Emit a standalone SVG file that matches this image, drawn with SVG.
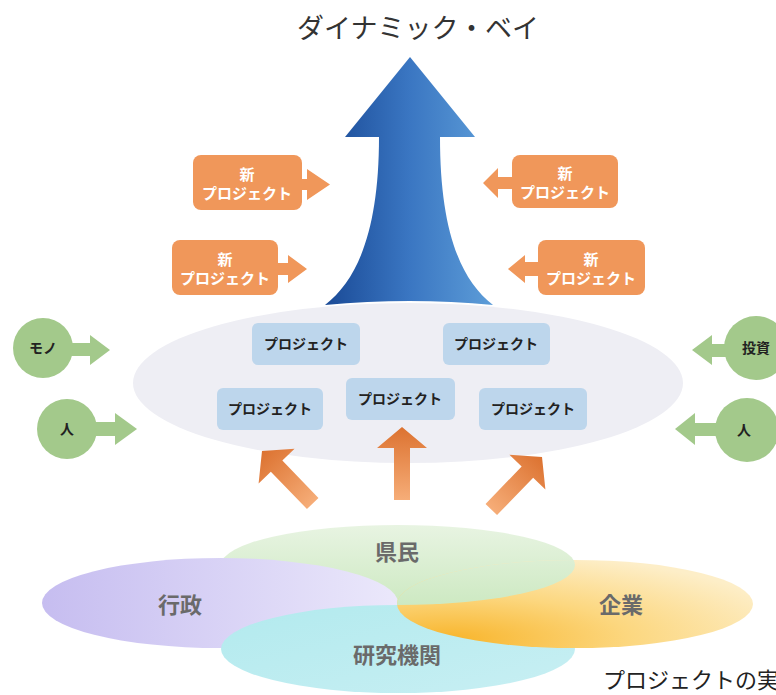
<svg xmlns="http://www.w3.org/2000/svg" width="776" height="695" viewBox="0 0 776 695">
<defs>
<style>
.jp{font-family:"Noto Sans CJK JP","Noto Sans CJK SC",sans-serif;}
.ob{fill:#f0975a;}
.ot{fill:#fff;font-size:15px;font-weight:bold;text-anchor:middle;}
.pb{fill:#bdd6ec;}
.pt{fill:#222;font-size:14px;font-weight:bold;text-anchor:middle;}
.gc{fill:#a3c98b;}
.gt{fill:#222;font-size:14px;font-weight:bold;text-anchor:middle;}
.vt{fill:#6a6a6a;font-size:22px;font-weight:bold;text-anchor:middle;}
</style>
<linearGradient id="blue" x1="0" y1="0" x2="1" y2="0">
<stop offset="0" stop-color="#1a4a96"/>
<stop offset="0.5" stop-color="#3a76c2"/>
<stop offset="1" stop-color="#5d9dd8"/>
</linearGradient>
<linearGradient id="oup" x1="0" y1="0" x2="0" y2="1">
<stop offset="0" stop-color="#dc7230"/>
<stop offset="1" stop-color="#f6ad78"/>
</linearGradient>
<linearGradient id="gGreen" x1="0" y1="0" x2="0" y2="1">
<stop offset="0" stop-color="#e8f4e2"/>
<stop offset="1" stop-color="#cde9c2"/>
</linearGradient>
<linearGradient id="gPurple" x1="0" y1="0" x2="1" y2="0">
<stop offset="0" stop-color="#c6bdf0"/>
<stop offset="1" stop-color="#ebe8fb"/>
</linearGradient>
<linearGradient id="gCyan" x1="0" y1="0" x2="1" y2="1">
<stop offset="0" stop-color="#b2eaee"/>
<stop offset="1" stop-color="#c8eff3"/>
</linearGradient>
<radialGradient id="gYellow" cx="0.15" cy="0.9" r="1">
<stop offset="0" stop-color="#f8b52c"/>
<stop offset="0.5" stop-color="#fcd77f"/>
<stop offset="1" stop-color="#fdeec8"/>
</radialGradient>
<clipPath id="yclip"><ellipse cx="575" cy="604" rx="178" ry="44"/></clipPath>
<path id="upArrow" d="M0,0 L25,21 L8,21 L8,73 L-8,73 L-8,21 L-25,21 Z"/>
</defs>
<rect width="776" height="695" fill="#fff"/>

<text class="jp" x="418" y="38" font-size="27" fill="#333" text-anchor="middle">ダイナミック・ベイ</text>

<g id="growth-arrow">
<path d="M410,57 L475,137 L440,137 C440,225 458,278 493,305 Q410,297 325,305 C360,278 379,225 379,137 L345,137 Z" fill="url(#blue)"/>
</g>

<g id="base-ellipse">
<ellipse cx="408" cy="383" rx="275" ry="80" fill="#eeeef4"/>
</g>

<g id="venn">
<g id="kenmin"><ellipse cx="398" cy="565" rx="177" ry="40" fill="url(#gGreen)"/></g>
<g id="gyosei"><ellipse cx="220" cy="603" rx="178" ry="45" fill="url(#gPurple)"/></g>
<g id="kenkyu"><ellipse cx="398" cy="649" rx="177" ry="44" fill="url(#gCyan)"/></g>
<g id="kigyo"><ellipse cx="575" cy="604" rx="178" ry="44" fill="url(#gYellow)"/></g>
<ellipse cx="398" cy="565" rx="177" ry="40" fill="url(#gGreen)" clip-path="url(#yclip)"/>
<text class="jp vt" x="397" y="560">県民</text>
<text class="jp vt" x="180" y="613">行政</text>
<text class="jp vt" x="621" y="613">企業</text>
<text class="jp vt" x="397" y="663">研究機関</text>
</g>

<g id="connectors">
<polygon class="ob" points="300,179 307,179 307,169 330,184.5 307,200 307,190 300,190"/>
<polygon class="ob" points="276,263 288,263 288,255 307,269 288,283 288,275 276,275"/>
<polygon class="ob" points="514,177 498,177 498,168 483,183 498,198 498,189 514,189"/>
<polygon class="ob" points="540,262 525,262 525,255 508,269 525,283 525,276 540,276"/>
<polygon class="gc" points="68,343 90,343 90,335 110,350 90,365 90,356 68,356"/>
<polygon class="gc" points="92,422 115,422 115,413 137,429 115,445 115,436 92,436"/>
<polygon class="gc" points="726,344 712,344 712,335 692,350 712,365 712,357 726,357"/>
<polygon class="gc" points="718,423 695,423 695,413 675,429 695,445 695,436 718,436"/>
<use href="#upArrow" fill="url(#oup)" transform="translate(402,427)"/>
<use href="#upArrow" fill="url(#oup)" transform="translate(262,451) rotate(-44)"/>
<use href="#upArrow" fill="url(#oup)" transform="translate(542,457) rotate(44)"/>
</g>

<g id="new1"><rect class="ob" x="193" y="155" width="109" height="55" rx="8"/><text class="jp ot" x="247" y="180">新</text><text class="jp ot" x="247" y="199">プロジェクト</text></g>
<g id="new2"><rect class="ob" x="172" y="240" width="106" height="55" rx="8"/><text class="jp ot" x="225" y="265">新</text><text class="jp ot" x="225" y="284">プロジェクト</text></g>
<g id="new3"><rect class="ob" x="512" y="155" width="106" height="53" rx="8"/><text class="jp ot" x="565" y="179">新</text><text class="jp ot" x="565" y="198">プロジェクト</text></g>
<g id="new4"><rect class="ob" x="538" y="240" width="107" height="55" rx="8"/><text class="jp ot" x="591" y="265">新</text><text class="jp ot" x="591" y="284">プロジェクト</text></g>

<g id="proj1"><rect class="pb" x="252" y="323" width="108" height="42" rx="6"/><text class="jp pt" x="306" y="349">プロジェクト</text></g>
<g id="proj2"><rect class="pb" x="443" y="323" width="107" height="42" rx="6"/><text class="jp pt" x="496" y="349">プロジェクト</text></g>
<g id="proj3"><rect class="pb" x="217" y="388" width="106" height="42" rx="6"/><text class="jp pt" x="270" y="414">プロジェクト</text></g>
<g id="proj4"><rect class="pb" x="346" y="378" width="109" height="42" rx="6"/><text class="jp pt" x="400" y="404">プロジェクト</text></g>
<g id="proj5"><rect class="pb" x="479" y="388" width="108" height="42" rx="6"/><text class="jp pt" x="533" y="414">プロジェクト</text></g>

<g id="mono"><circle class="gc" cx="43" cy="348" r="30"/><text class="jp gt" x="43" y="353">モノ</text></g>
<g id="hito-left"><circle class="gc" cx="67" cy="429" r="30"/><text class="jp gt" x="67" y="434">人</text></g>
<g id="toshi"><circle class="gc" cx="756" cy="348" r="32"/><text class="jp gt" x="756" y="353">投資</text></g>
<g id="hito-right"><circle class="gc" cx="747" cy="430" r="32"/><text class="jp gt" x="744" y="435">人</text></g>

<text class="jp" x="603" y="688" font-size="22" fill="#222">プロジェクトの実</text>
</svg>
